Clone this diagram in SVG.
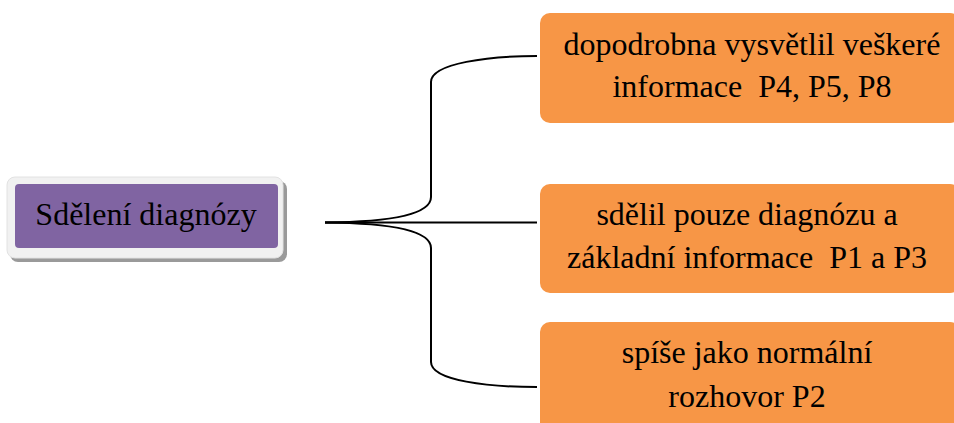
<svg xmlns="http://www.w3.org/2000/svg" width="954" height="423" viewBox="0 0 954 423">
<defs>
<style>
.t{font-family:'Liberation Serif','Times New Roman',Times,serif;font-size:32px;fill:#000;text-anchor:middle;white-space:pre}
.box{fill:#F79646}
.con{fill:none;stroke:#000;stroke-width:2}
</style>
</defs>
<rect width="954" height="423" fill="#fff"/>
<g id="root">
<rect x="10" y="181" width="277" height="81" rx="8" fill="#9a9a9a"/>
<rect x="7" y="177" width="276" height="81" rx="8" fill="#f1f1f1" stroke="#e2e2e2"/>
<rect x="15" y="184" width="263" height="64" rx="4" fill="#8064A2"/>
<text class="t" x="146" y="225" font-family="Liberation Serif">Sdělení diagnózy</text>
</g>
<g id="connectors">
<path class="con" d="M325,222.5 H537"/>
<path class="con" d="M325,222.5 C385,222 431,216 431,197 L431,82 C431,63 490,56 537,56"/>
<path class="con" d="M325,222.5 C385,223 431,229 431,248 L431,362 C431,381 490,387 537,387"/>
</g>
<g id="n1">
<rect class="box" x="540" y="13" width="420" height="110" rx="10"/>
<text class="t" x="752" y="55">dopodrobna vysvětlil veškeré</text>
<text class="t" x="752" y="97" xml:space="preserve">informace  P4, P5, P8</text>
</g>
<g id="n2">
<rect class="box" x="540" y="184" width="420" height="109" rx="10"/>
<text class="t" x="747" y="225">sdělil pouze diagnózu a</text>
<text class="t" x="747" y="268" xml:space="preserve">základní informace  P1 a P3</text>
</g>
<g id="n3">
<rect class="box" x="540" y="322" width="420" height="120" rx="10"/>
<text class="t" x="747" y="363">spíše jako normální</text>
<text class="t" x="747" y="407">rozhovor P2</text>
</g>
</svg>
